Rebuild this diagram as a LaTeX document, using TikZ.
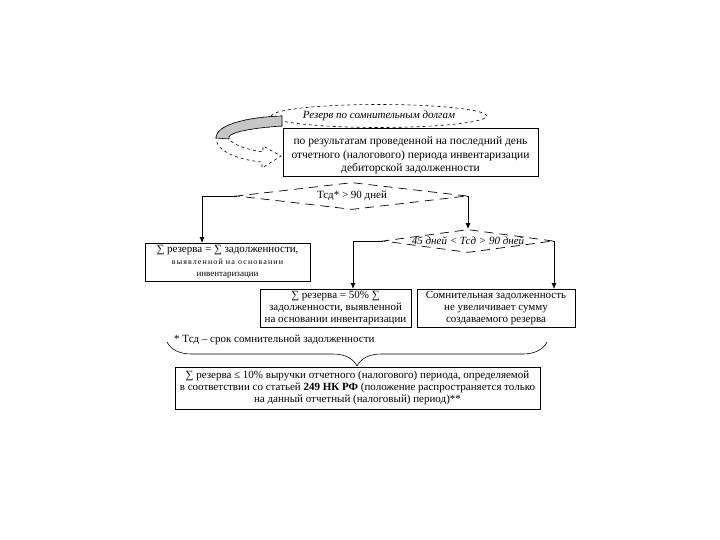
\documentclass[tikz,border=0pt]{standalone}
\usepackage{fontspec}
\setmainfont{Liberation Serif}
\usetikzlibrary{shapes.geometric,arrows.meta,decorations.pathreplacing}

\tikzset{
  box/.style={draw,line width=0.9pt,align=center,inner sep=0pt,font=\fontsize{11}{12}\selectfont},
  dia/.style={draw,diamond,shape aspect=9,inner xsep=0pt,inner ysep=-5.5pt,line width=0.7pt,dash pattern=on 9pt off 6pt},
  arr/.style={-{Latex[length=6pt,width=5pt]},line width=0.8pt},
}

\begin{document}
\begin{tikzpicture}[x=1pt,y=-1pt]
  \useasboundingbox (0,0) rectangle (720,540);

  \node[draw,ellipse,dashed,line width=0.6pt,minimum width=192pt,minimum height=23pt,inner sep=0pt,
        font=\itshape\fontsize{11}{12}\selectfont] (ellip) at (379,116) {Резерв по сомнительным долгам};
  \node[box,minimum width=255pt,minimum height=48pt,font=\fontsize{11.5}{13.5}\selectfont] (inv) at (410.5,152)
    {\rule{0pt}{15pt}по результатам проведенной на последний день\\отчетного (налогового) периода инвентаризации\\дебиторской задолженности};

  %curved arrow from the ellipse round to the box
  \draw[dashed,line width=0.6pt] (282,126) .. controls (250,128) and (225,133) .. (229,139)
    .. controls (234,146) and (250,150) .. (263,152) -- (263,146) -- (281,156) -- (262,168) -- (262,162)
    .. controls (240,160) and (216,152) .. (216,138) .. controls (216,124) and (250,117) .. (282,116);
  \fill[gray!45,draw=black,line width=0.6pt] (282,116) .. controls (250,117) and (216,124) .. (216,138)
    -- (229,139) .. controls (225,133) and (250,128) .. (282,126) -- cycle;

  \node[dia,minimum width=230pt,minimum height=27pt,font=\fontsize{11}{12}\selectfont] (dia1) at (352,196) {Тсд* > 90 дней};
  \node[dia,minimum width=170pt,minimum height=23pt,font=\itshape\fontsize{11}{12}\selectfont] (dia2) at (468,241) {45 дней < Тсд > 90 дней};

  \node[box,minimum width=165pt,minimum height=38pt] (lbox) at (227.5,262)
    {∑ резерва = ∑ задолженности,\\{\fontsize{8}{10}\selectfont\addfontfeatures{LetterSpace=14}выявленной на основании}\\{\fontsize{9}{11}\selectfont инвентаризации}};
  \node[box,minimum width=151pt,minimum height=38pt] (mbox) at (335.5,308)
    {∑ резерва = 50\% ∑\\задолженности, выявленной\\на основании инвентаризации};
  \node[box,minimum width=158pt,minimum height=38pt] (rbox) at (496,308)
    {Сомнительная задолженность\\не увеличивает сумму\\создаваемого резерва};

  \coordinate (lin) at (202,243);
  \coordinate (min) at (353,289);
  \coordinate (rin) at (554,289);
  \draw[arr] (dia1.west) -| (lin);
  \draw[arr] (dia1.east) -| (dia2.north);
  \draw[arr] (dia2.west) -| (min);
  \draw[arr] (dia2.east) -| (rin);

  \node[anchor=west,inner sep=0pt,font=\fontsize{11}{12}\selectfont] (foot) at (174,340) {* Тсд – срок сомнительной задолженности};
  \coordinate (bl) at (167,342);
  \coordinate (br) at (547,342);
  \draw[line width=0.6pt,decorate,decoration={brace,mirror,amplitude=24pt,aspect=0.5}] (bl) -- (br);

  \node[box,minimum width=365pt,minimum height=42pt] (bbox) at (357.5,388)
    {∑ резерва ≤ 10\% выручки отчетного (налогового) периода, определяемой\\
     в соответствии со статьей \textbf{249 НК РФ} (положение распространяется только\\
     на данный отчетный (налоговый) период)**};
\end{tikzpicture}
\end{document}
